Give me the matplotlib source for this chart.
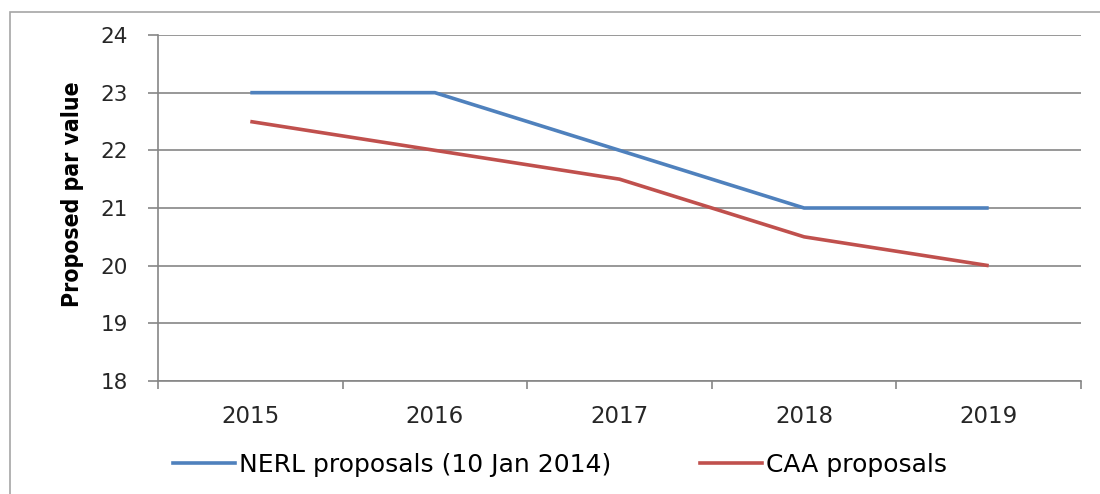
import matplotlib.pyplot as plt
from matplotlib.patches import Rectangle
from matplotlib.lines import Line2D

years = ["2015", "2016", "2017", "2018", "2019"]
nerl = [23, 23, 22, 21, 21]
caa = [22.5, 22, 21.5, 20.5, 20]
yticks = [18, 19, 20, 21, 22, 23, 24]

plt.rcParams['font.family'] = ['DejaVu Sans']

fig = plt.figure(figsize=(11, 4.94), dpi=100)
# outer chart border
fig.patches.append(Rectangle((10 / 1100, -0.01), 1.0, 1 - 12 / 494 + 0.01,
                             transform=fig.transFigure, fill=False,
                             edgecolor='#a6a6a6', linewidth=1.2))

ax = fig.add_axes([158 / 1100, 1 - 381 / 494, (1081 - 158) / 1100, (381 - 35) / 494])
x = range(len(years))
ax.plot(x, nerl, color='#4F81BD', linewidth=2.6, solid_capstyle='butt', label='NERL proposals (10 Jan 2014)')
ax.plot(x, caa, color='#C0504D', linewidth=2.6, solid_capstyle='butt', label='CAA proposals')

ax.set_xlim(-0.5, len(years) - 0.5)
ax.set_ylim(18, 24)
ax.set_yticks(yticks)
ax.set_yticklabels([str(v) for v in yticks], fontsize=15.5, color='#262626')
ax.set_xticks([i - 0.5 for i in range(len(years) + 1)])
ax.set_xticklabels([])
ax.set_xticks(list(x), minor=True)
ax.set_xticklabels(years, minor=True, fontsize=16.5, color='#262626')
ax.tick_params(axis='x', which='minor', length=0, pad=17)
ax.tick_params(axis='x', which='major', length=6, color='#868686', width=1.2, direction='out')
ax.tick_params(axis='y', length=7.5, color='#868686', width=1.2, direction='out', pad=14)

ax.grid(axis='y', color='#868686', linewidth=1.2)
ax.set_axisbelow(True)
for s in ['top', 'right']:
    ax.spines[s].set_visible(False)
for s in ['left', 'bottom']:
    ax.spines[s].set_color('#868686')
    ax.spines[s].set_linewidth(1.2)

ax.set_ylabel('Proposed par value', fontsize=16.5, fontweight='bold',
              fontstretch='condensed')
ax.yaxis.set_label_coords(-0.080, 0.54)

handles = [Line2D([], [], color='#4F81BD', linewidth=2.6),
           Line2D([], [], color='#C0504D', linewidth=2.6)]
fig.legend(handles, ['NERL proposals (10 Jan 2014)', 'CAA proposals'],
           loc='center left', bbox_to_anchor=(150 / 1100, 1 - 465 / 494), ncol=2, frameon=False,
           fontsize=18, handlelength=2.5, handletextpad=0.15, columnspacing=3.55)

plt.savefig('out.png', dpi=100)
